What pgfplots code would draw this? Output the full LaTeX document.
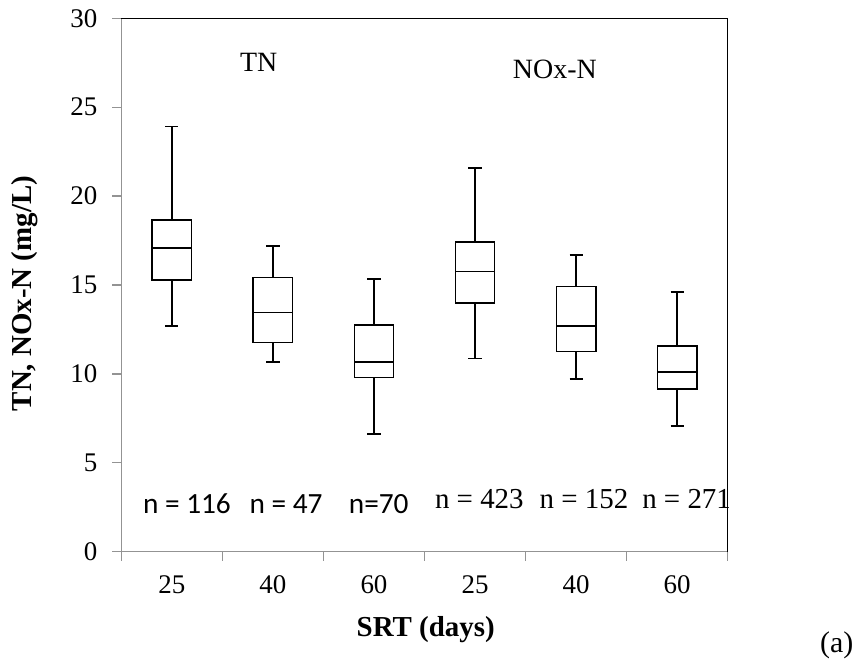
\documentclass[border=0pt]{standalone}
\usepackage{fontspec}
\setmainfont{Liberation Serif}
\newfontfamily\calibri{Carlito}
\usepackage{pgfplots}
\pgfplotsset{compat=1.18}
\usepgfplotslibrary{statistics}

\begin{document}
\begin{tikzpicture}
\begin{axis}[
    width=304pt, height=267.5pt, scale only axis,
    xmin=0.5, xmax=6.5, ymin=0, ymax=30,
    ytick={0,5,...,30},
    xtick={1,...,6},
    xticklabels={25,40,60,25,40,60},
    minor xtick={0.5,1.5,...,6.5},
    major x tick style={draw=none},
    tick align=outside,
    major tick length=4.5pt, minor tick length=4.5pt,
    axis x line*=bottom, axis y line*=left,
    axis line style={draw=gray!85, line width=0.6pt},
    every tick/.style={gray!85, line width=0.6pt},
    /pgf/number format/assume math mode=true,
    ticklabel style={font=\fontsize{13.5}{15}\selectfont},
    yticklabel style={xshift=-4pt},
    xticklabel style={yshift=-4pt},
    xlabel={\textbf{SRT (days)}},
    ylabel={\textbf{TN, NOx-N (mg/L)}},
    xlabel style={font=\fontsize{14.5}{17}\selectfont, at={(axis description cs:0.502,-0.146)}, anchor=center},
    ylabel style={font=\fontsize{14.5}{17}\selectfont, at={(axis description cs:-0.159,0.484)}, anchor=center},
    boxplot/draw direction=y,
    boxplot/box extend=0.39,
    boxplot/whisker extend=0.13,
    clip=false,
]
% TN
\addplot[black, line width=0.75pt, boxplot prepared={draw position=1,
    lower whisker=12.7, lower quartile=15.27, median=17.07, upper quartile=18.65, upper whisker=23.9}] coordinates {};
\addplot[black, line width=0.75pt, boxplot prepared={draw position=2,
    lower whisker=10.67, lower quartile=11.76, median=13.46, upper quartile=15.42, upper whisker=17.2}] coordinates {};
\addplot[black, line width=0.75pt, boxplot prepared={draw position=3,
    lower whisker=6.63, lower quartile=9.79, median=10.67, upper quartile=12.75, upper whisker=15.33}] coordinates {};
% NOx-N
\addplot[black, line width=0.75pt, boxplot prepared={draw position=4,
    lower whisker=10.86, lower quartile=13.98, median=15.76, upper quartile=17.42, upper whisker=21.57}] coordinates {};
\addplot[black, line width=0.75pt, boxplot prepared={draw position=5,
    lower whisker=9.72, lower quartile=11.25, median=12.69, upper quartile=14.92, upper whisker=16.69}] coordinates {};
\addplot[black, line width=0.75pt, boxplot prepared={draw position=6,
    lower whisker=7.07, lower quartile=9.16, median=10.1, upper quartile=11.57, upper whisker=14.6}] coordinates {};

% plot area frame (top and right)
\draw[black, line width=0.6pt] (rel axis cs:0,1) -- (rel axis cs:1,1) -- (rel axis cs:1,0);

\node[font=\fontsize{14}{16}\selectfont] at (axis cs:1.86,27.5) {TN};
\node[font=\fontsize{14}{16}\selectfont] at (axis cs:4.79,27.1) {NOx-N};

\node[font=\calibri\fontsize{14.7}{17}\selectfont, anchor=base] at (axis cs:1.149,2.15) {n = 116};
\node[font=\calibri\fontsize{14.7}{17}\selectfont, anchor=base] at (axis cs:2.13,2.15) {n = 47};
\node[font=\calibri\fontsize{14.7}{17}\selectfont, anchor=base] at (axis cs:3.047,2.15) {n=70};
\node[font=\fontsize{14.5}{17}\selectfont, anchor=base] at (axis cs:4.043,2.43) {n = 423};
\node[font=\fontsize{14.5}{17}\selectfont, anchor=base] at (axis cs:5.078,2.43) {n = 152};
\node[font=\fontsize{14.5}{17}\selectfont, anchor=base] at (axis cs:6.094,2.43) {n = 271};

\node[font=\fontsize{15}{17}\selectfont] at (rel axis cs:1.18,-0.175) {(a)};

\path (rel axis cs:-0.2002,-0.2088) rectangle (rel axis cs:1.2143,1.0342);
\end{axis}
\end{tikzpicture}
\end{document}
